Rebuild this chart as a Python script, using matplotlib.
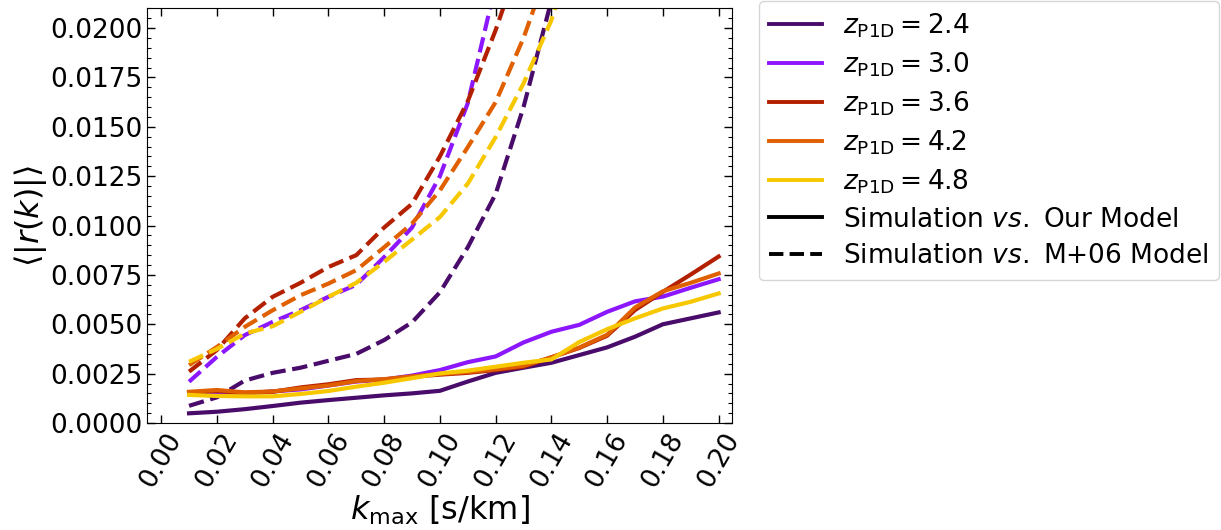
import numpy as np
import matplotlib
matplotlib.use('Agg')
import matplotlib.pyplot as plt
from matplotlib.lines import Line2D
from matplotlib.ticker import MultipleLocator, FormatStrFormatter

nan = np.nan

# k_max [s/km]
k_max = [0.01, 0.02, 0.03, 0.04, 0.05, 0.06, 0.07, 0.08, 0.09, 0.10,
         0.11, 0.12, 0.13, 0.14, 0.15, 0.16, 0.17, 0.18, 0.19, 0.20]

z_p1d = [2.4, 3.0, 3.6, 4.2, 4.8]
colors = ['#4a0c6b', '#8c17ff', '#b32000', '#e06000', '#f7c800']

# Simulation vs. Our Model
ours_24 = [0.00049, 0.00057, 0.00070, 0.00086, 0.00103, 0.00116, 0.00128, 0.00140, 0.00150, 0.00163,
           0.00210, 0.00254, 0.00280, 0.00305, 0.00344, 0.00383, 0.00437, 0.00500, 0.00530, 0.00560]
ours_30 = [0.00150, 0.00155, 0.00150, 0.00160, 0.00170, 0.00190, 0.00210, 0.00220, 0.00240, 0.00268,
           0.00308, 0.00337, 0.00408, 0.00462, 0.00497, 0.00563, 0.00616, 0.00640, 0.00685, 0.00728]
ours_36 = [0.00155, 0.00162, 0.00153, 0.00158, 0.00180, 0.00196, 0.00217, 0.00220, 0.00234, 0.00245,
           0.00254, 0.00268, 0.00285, 0.00333, 0.00380, 0.00442, 0.00572, 0.00664, 0.00752, 0.00843]
ours_42 = [0.00158, 0.00167, 0.00155, 0.00160, 0.00175, 0.00190, 0.00212, 0.00222, 0.00236, 0.00248,
           0.00258, 0.00272, 0.00290, 0.00332, 0.00382, 0.00447, 0.00585, 0.00667, 0.00710, 0.00757]
ours_48 = [0.00142, 0.00137, 0.00135, 0.00135, 0.00147, 0.00162, 0.00184, 0.00204, 0.00227, 0.00251,
           0.00265, 0.00285, 0.00305, 0.00322, 0.00410, 0.00475, 0.00530, 0.00580, 0.00614, 0.00656]

# Simulation vs. M+06 Model (goes off the top of the axes)
m06_24 = [0.00087, 0.00130, 0.00215, 0.00254, 0.00280, 0.00315, 0.00350, 0.00420, 0.00510, 0.00662,
          0.00890, 0.01160, 0.01600, 0.02140, nan, nan, nan, nan, nan, nan]
m06_30 = [0.00209, 0.00335, 0.00445, 0.00512, 0.00571, 0.00639, 0.00700, 0.00840, 0.00990, 0.01250,
          0.01620, 0.02220, nan, nan, nan, nan, nan, nan, nan, nan]
m06_36 = [0.00260, 0.00370, 0.00530, 0.00639, 0.00710, 0.00790, 0.00850, 0.00990, 0.01110, 0.01350,
          0.01630, 0.01990, 0.02400, nan, nan, nan, nan, nan, nan, nan]
m06_42 = [0.00293, 0.00385, 0.00487, 0.00571, 0.00647, 0.00706, 0.00774, 0.00890, 0.01010, 0.01178,
          0.01397, 0.01625, 0.01950, 0.02350, nan, nan, nan, nan, nan, nan]
m06_48 = [0.00310, 0.00375, 0.00453, 0.00490, 0.00563, 0.00639, 0.00710, 0.00816, 0.00929, 0.01043,
          0.01212, 0.01448, 0.01720, 0.02040, 0.02500, nan, nan, nan, nan, nan]

ours = [ours_24, ours_30, ours_36, ours_42, ours_48]
m06 = [m06_24, m06_30, m06_36, m06_42, m06_48]

fig = plt.figure(figsize=(12.21, 5.30), dpi=100)
ax = fig.add_axes([0.1206, 0.2019, 0.4787, 0.7824])

for i in range(len(z_p1d)):
    ax.plot(k_max, ours[i], color=colors[i], lw=3.0, linestyle='-')
    ax.plot(k_max, m06[i], color=colors[i], lw=3.0, linestyle='--')

ax.set_xlim(-0.005, 0.2047)
ax.set_ylim(0.0, 0.021)

ax.xaxis.set_major_locator(MultipleLocator(0.02))
ax.xaxis.set_major_formatter(FormatStrFormatter('%.2f'))
ax.yaxis.set_major_locator(MultipleLocator(0.0025))
ax.yaxis.set_minor_locator(MultipleLocator(0.0005))
ax.yaxis.set_major_formatter(FormatStrFormatter('%.4f'))
ax.tick_params(which='both', direction='in', top=True, right=True, labelsize=19)
ax.tick_params(which='major', length=6, width=1.0)
ax.tick_params(which='minor', length=3, width=0.8)
plt.setp(ax.get_xticklabels(), rotation=60, ha='center')

ax.set_xlabel(r'$k_{\rm max}$ [s/km]', fontsize=23, labelpad=1)
ax.set_ylabel(r'$\langle|r(k)|\rangle$', fontsize=23, labelpad=1)

# legend: colours for redshift, line style for model
handles = [Line2D([0], [0], color=colors[i], lw=2.8) for i in range(len(z_p1d))]
labels = [r'$z_{\rm P1D} = %.1f$' % z for z in z_p1d]
handles += [Line2D([0], [0], color='black', lw=2.8, linestyle='-'),
            Line2D([0], [0], color='black', lw=2.8, linestyle='--')]
labels += [r'Simulation $vs.$ Our Model', r'Simulation $vs.$ M+06 Model']
ax.legend(handles, labels, loc='upper left', bbox_to_anchor=(1.046, 1.018),
          borderaxespad=0, fontsize=19, labelspacing=0.4)

plt.savefig('out.png', dpi=100)
plt.close(fig)
